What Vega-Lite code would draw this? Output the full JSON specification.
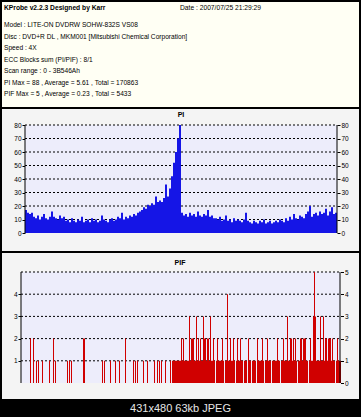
{
  "$schema": "https://vega.github.io/schema/vega-lite/v6.json",
  "background": "#000000",
  "padding": {"left": 2, "top": 2, "right": 2, "bottom": 0},
  "spacing": 2,
  "config": {
    "font": "Liberation Sans",
    "view": {"stroke": null},
    "axis": {"labelFont": "Liberation Sans", "labelColor": "#000000", "tickColor": "#000000", "domain": false, "grid": false, "title": null, "labelFontSize": 6.5, "tickSize": 3, "labelPadding": 1}
  },
  "vconcat": [
    {
      "width": 357,
      "height": 105,
      "view": {"fill": "#fffff4", "stroke": null},
      "layer": [
        {
          "data": {"values": [
            {"col": "a", "line": 1, "text": "Model : LITE-ON DVDRW SOHW-832S VS08"},
            {"col": "a", "line": 2, "text": "Disc : DVD+R DL , MKM001 [Mitsubishi Chemical Corporation]"},
            {"col": "a", "line": 3, "text": "Speed : 4X"},
            {"col": "a", "line": 4, "text": "ECC Blocks sum (PI/PIF) : 8/1"},
            {"col": "a", "line": 5, "text": "Scan range : 0 - 3B546Ah"},
            {"col": "a", "line": 6, "text": "PI Max = 88 , Average = 5.61 , Total = 170863"},
            {"col": "a", "line": 7, "text": "PIF Max = 5 , Average = 0.23 , Total = 5433"}
          ]},
          "mark": {"type": "text", "align": "left", "baseline": "middle", "fontSize": 6.6, "color": "#000000"},
          "encoding": {
            "x": {"field": "col", "type": "nominal", "scale": {"type": "point", "domain": ["a", "b"], "range": [2, 178], "padding": 0}, "axis": null},
            "y": {"field": "line", "type": "quantitative", "scale": {"domain": [-1, 8.13], "reverse": true, "nice": false, "zero": false}, "axis": null},
            "text": {"field": "text"}
          }
        },
        {
          "data": {"values": [{"col": "a", "line": 0, "text": "KProbe v2.2.3   Designed by Karr"}]},
          "mark": {"type": "text", "align": "left", "baseline": "middle", "fontSize": 6.7, "fontWeight": "bold", "color": "#000000", "dy": -5.5},
          "encoding": {
            "x": {"field": "col", "type": "nominal", "scale": {"type": "point", "domain": ["a", "b"], "range": [2, 178], "padding": 0}, "axis": null},
            "y": {"field": "line", "type": "quantitative", "scale": {"domain": [-1, 8.13], "reverse": true, "nice": false, "zero": false}, "axis": null},
            "text": {"field": "text"}
          }
        },
        {
          "data": {"values": [{"col": "b", "line": 0, "text": "Date : 2007/07/25 21:29:29"}]},
          "mark": {"type": "text", "align": "left", "baseline": "middle", "fontSize": 6.7, "color": "#000000", "dy": -5.5},
          "encoding": {
            "x": {"field": "col", "type": "nominal", "scale": {"type": "point", "domain": ["a", "b"], "range": [2, 178], "padding": 0}, "axis": null},
            "y": {"field": "line", "type": "quantitative", "scale": {"domain": [-1, 8.13], "reverse": true, "nice": false, "zero": false}, "axis": null},
            "text": {"field": "text"}
          }
        }
      ]
    },
    {
      "width": 357,
      "height": 142,
      "view": {"fill": "#f4f4f4", "stroke": null},
      "resolve": {"axis": {"y": "independent"}},
      "layer": [
        {
          "data": {"values": [{}]},
          "mark": {"type": "rect", "fill": "#ededfb"},
          "encoding": {
            "x": {"datum": 0, "type": "quantitative", "scale": {"domain": [-23, 334], "nice": false, "zero": false, "padding": 0}, "axis": null},
            "x2": {"datum": 312},
            "y": {"datum": 0, "type": "quantitative", "scale": {"domain": [-13.333, 91.852], "nice": false, "zero": false, "padding": 0}, "axis": null},
            "y2": {"datum": 80}
          }
        },
        {
          "data": {"values": [{"g": 10}, {"g": 20}, {"g": 30}, {"g": 40}, {"g": 50}, {"g": 60}, {"g": 70}, {"g": 80}]},
          "mark": {"type": "rule", "color": "#000000", "strokeDash": [2, 2], "strokeWidth": 1},
          "encoding": {
            "y": {"field": "g", "type": "quantitative", "scale": {"domain": [-13.333, 91.852], "nice": false, "zero": false, "padding": 0},
                  "axis": {"orient": "right", "offset": -22, "values": [0, 10, 20, 30, 40, 50, 60, 70, 80]}},
            "x": {"datum": 0, "type": "quantitative", "scale": {"domain": [-23, 334], "nice": false, "zero": false, "padding": 0}, "axis": null},
            "x2": {"datum": 312}
          }
        },
        {
          "data": {"values": [
            {"i":1,"v":17},{"i":3,"v":15},{"i":5,"v":14},{"i":7,"v":15},{"i":9,"v":12},
            {"i":11,"v":11},{"i":13,"v":13},{"i":15,"v":10},{"i":17,"v":12},{"i":19,"v":14},{"i":21,"v":11},{"i":23,"v":10},{"i":25,"v":12},{"i":27,"v":16},{"i":29,"v":12},{"i":31,"v":11},{"i":33,"v":10},{"i":35,"v":13},{"i":37,"v":11},{"i":39,"v":12},
            {"i":41,"v":9},{"i":43,"v":10},{"i":45,"v":8},{"i":47,"v":11},{"i":49,"v":9},{"i":51,"v":8},{"i":53,"v":10},{"i":55,"v":9},{"i":57,"v":12},{"i":59,"v":8},{"i":61,"v":9},{"i":63,"v":10},{"i":65,"v":8},{"i":67,"v":11},{"i":69,"v":9},{"i":71,"v":10},{"i":73,"v":8},{"i":75,"v":9},{"i":77,"v":13},{"i":79,"v":10},{"i":81,"v":9},{"i":83,"v":8},{"i":85,"v":10},{"i":87,"v":11},{"i":89,"v":9},
            {"i":91,"v":10},{"i":93,"v":12},{"i":95,"v":11},{"i":97,"v":15},{"i":99,"v":10},{"i":101,"v":12},{"i":103,"v":11},{"i":105,"v":13},
            {"i":107,"v":12},{"i":109,"v":14},{"i":111,"v":13},{"i":113,"v":15},{"i":115,"v":16},
            {"i":117,"v":17},{"i":119,"v":19},{"i":121,"v":18},{"i":123,"v":21},{"i":125,"v":20},
            {"i":127,"v":22},{"i":129,"v":21},{"i":131,"v":27},{"i":133,"v":23},{"i":135,"v":24},
            {"i":137,"v":23},{"i":139,"v":26},{"i":141,"v":36},{"i":143,"v":27},{"i":145,"v":33},
            {"i":147,"v":42},{"i":149,"v":52},{"i":151,"v":60},{"i":153,"v":70},{"i":155,"v":80},
            {"i":157,"v":15},{"i":159,"v":13},{"i":161,"v":14},{"i":163,"v":12},{"i":165,"v":15},{"i":167,"v":13},{"i":169,"v":14},{"i":171,"v":12},{"i":173,"v":16},{"i":175,"v":13},{"i":177,"v":12},{"i":179,"v":14},{"i":181,"v":13},{"i":183,"v":17},{"i":185,"v":12},{"i":187,"v":13},{"i":189,"v":11},
            {"i":191,"v":11},{"i":193,"v":10},{"i":195,"v":12},{"i":197,"v":9},{"i":199,"v":10},{"i":201,"v":13},{"i":203,"v":9},{"i":205,"v":10},{"i":207,"v":8},{"i":209,"v":11},{"i":211,"v":9},{"i":213,"v":10},{"i":215,"v":9},{"i":217,"v":8},{"i":219,"v":10},
            {"i":221,"v":15},{"i":223,"v":9},{"i":225,"v":8},{"i":227,"v":7},{"i":229,"v":9},{"i":231,"v":8},{"i":233,"v":7},{"i":235,"v":9},{"i":237,"v":8},{"i":239,"v":10},{"i":241,"v":7},{"i":243,"v":8},{"i":245,"v":9},{"i":247,"v":7},{"i":249,"v":8},{"i":251,"v":9},{"i":253,"v":8},{"i":255,"v":10},{"i":257,"v":9},{"i":259,"v":8},
            {"i":261,"v":11},{"i":263,"v":9},{"i":265,"v":12},{"i":267,"v":10},{"i":269,"v":14},{"i":271,"v":11},{"i":273,"v":10},{"i":275,"v":13},{"i":277,"v":12},{"i":279,"v":11},{"i":281,"v":14},
            {"i":283,"v":16},{"i":285,"v":20},{"i":287,"v":12},{"i":289,"v":14},{"i":291,"v":15},{"i":293,"v":13},{"i":295,"v":16},{"i":297,"v":14},{"i":299,"v":15},{"i":301,"v":18},{"i":303,"v":13},{"i":305,"v":16},{"i":307,"v":19},{"i":309,"v":14},{"i":311,"v":15}
          ]},
          "mark": {"type": "bar", "color": "#1515e6", "size": 2},
          "encoding": {
            "x": {"field": "i", "type": "quantitative", "scale": {"domain": [-23, 334], "nice": false, "zero": false, "padding": 0},
                  "axis": {"orient": "bottom", "offset": -18, "values": [0, 17, 46, 71, 98, 131, 161, 194, 225, 254, 287], "labelFontSize": 6, "labelFlush": false, "labelOverlap": false,
                           "labelExpr": "['98h','30F48h','9D5E2h','E8094h','140F24h','1A75E3h','20C681h','26FE6Eh','2D2F3Eh','33E834h','3A0C4Fh'][indexof([0,17,46,71,98,131,161,194,225,254,287], datum.value)]"}},
            "y": {"field": "v", "type": "quantitative", "scale": {"domain": [-13.333, 91.852], "nice": false, "zero": false, "padding": 0},
                  "axis": {"orient": "left", "offset": -23, "values": [0, 10, 20, 30, 40, 50, 60, 70, 80]}}
          }
        },
        {
          "data": {"values": [{}]},
          "mark": {"type": "rule", "color": "#000000", "strokeWidth": 1},
          "encoding": {
            "x": {"datum": 0, "type": "quantitative", "scale": {"domain": [-23, 334], "nice": false, "zero": false, "padding": 0}, "axis": null},
            "y": {"datum": 0, "type": "quantitative", "scale": {"domain": [-13.333, 91.852], "nice": false, "zero": false, "padding": 0}, "axis": null},
            "y2": {"datum": 80}
          }
        },
        {
          "data": {"values": [{}]},
          "mark": {"type": "rule", "color": "#000000", "strokeWidth": 1},
          "encoding": {
            "x": {"datum": 312, "type": "quantitative", "scale": {"domain": [-23, 334], "nice": false, "zero": false, "padding": 0}, "axis": null},
            "y": {"datum": 0, "type": "quantitative", "scale": {"domain": [-13.333, 91.852], "nice": false, "zero": false, "padding": 0}, "axis": null},
            "y2": {"datum": 80}
          }
        },
        {
          "data": {"values": [{"t": "PI"}]},
          "mark": {"type": "text", "fontSize": 7, "fontWeight": "bold", "color": "#000000", "baseline": "middle", "align": "center"},
          "encoding": {
            "x": {"datum": 156, "type": "quantitative", "scale": {"domain": [-23, 334], "nice": false, "zero": false, "padding": 0}, "axis": null},
            "y": {"datum": 87.4, "type": "quantitative", "scale": {"domain": [-13.333, 91.852], "nice": false, "zero": false, "padding": 0}, "axis": null},
            "text": {"field": "t"}
          }
        }
      ]
    },
    {
      "width": 357,
      "height": 146,
      "view": {"fill": "#f4f4f4", "stroke": null},
      "resolve": {"axis": {"y": "independent"}},
      "layer": [
        {
          "data": {"values": [{}]},
          "mark": {"type": "rect", "fill": "#ededfb"},
          "encoding": {
            "x": {"datum": -0.5, "type": "quantitative", "scale": {"domain": [-19.5, 337.5], "nice": false, "zero": false, "padding": 0}, "axis": null},
            "x2": {"datum": 318.5},
            "y": {"datum": 0, "type": "quantitative", "scale": {"domain": [-0.7207, 5.8559], "nice": false, "zero": false, "padding": 0}, "axis": null},
            "y2": {"datum": 5}
          }
        },
        {
          "data": {"values": [{"g": 1}, {"g": 2}, {"g": 3}, {"g": 4}, {"g": 5}]},
          "mark": {"type": "rule", "color": "#000000", "strokeDash": [2, 2], "strokeWidth": 1},
          "encoding": {
            "y": {"field": "g", "type": "quantitative", "scale": {"domain": [-0.7207, 5.8559], "nice": false, "zero": false, "padding": 0},
                  "axis": {"orient": "right", "offset": -18.5, "values": [0, 1, 2, 3, 4, 5]}},
            "x": {"datum": -0.5, "type": "quantitative", "scale": {"domain": [-19.5, 337.5], "nice": false, "zero": false, "padding": 0}, "axis": null},
            "x2": {"datum": 318.5}
          }
        },
        {
          "data": {"values": [
            {"i":9,"v":2},{"i":12,"v":2},{"i":15,"v":1},{"i":17,"v":1},{"i":21,"v":1},{"i":28,"v":1},{"i":32,"v":2},{"i":34,"v":1},{"i":46,"v":1},{"i":48,"v":1},{"i":50,"v":1},{"i":62,"v":2},{"i":63,"v":2},{"i":81,"v":1},{"i":83,"v":1},{"i":89,"v":1},{"i":94,"v":1},{"i":98,"v":1},{"i":104,"v":2},{"i":112,"v":1},{"i":114,"v":1},{"i":116,"v":1},{"i":122,"v":1},{"i":126,"v":1},{"i":133,"v":1},{"i":136,"v":1},{"i":138,"v":1},{"i":140,"v":1},{"i":144,"v":1},{"i":149,"v":1},{"i":151,"v":1},
            {"i":152,"v":1},{"i":153,"v":1},{"i":154,"v":1},{"i":155,"v":1},{"i":156,"v":1},{"i":157,"v":1},{"i":158,"v":1},{"i":159,"v":1},
            {"i":160,"v":2},{"i":161,"v":1},{"i":162,"v":2},{"i":163,"v":1},{"i":164,"v":1},{"i":165,"v":1},{"i":166,"v":1},{"i":167,"v":1},{"i":168,"v":3},{"i":169,"v":1},
            {"i":170,"v":2},{"i":171,"v":2},{"i":172,"v":2},{"i":173,"v":1},{"i":174,"v":1},{"i":175,"v":3},{"i":176,"v":1},{"i":177,"v":2},{"i":178,"v":1},{"i":179,"v":2},
            {"i":180,"v":1},{"i":181,"v":1},{"i":182,"v":3},{"i":183,"v":2},{"i":184,"v":2},{"i":185,"v":1},{"i":186,"v":2},{"i":187,"v":2},{"i":188,"v":1},{"i":189,"v":3},
            {"i":190,"v":1},{"i":191,"v":1},{"i":192,"v":2},{"i":193,"v":1},{"i":195,"v":1},{"i":196,"v":2},{"i":197,"v":1},{"i":198,"v":1},{"i":199,"v":1},
            {"i":200,"v":1},{"i":201,"v":2},{"i":202,"v":1},{"i":204,"v":1},{"i":205,"v":1},{"i":206,"v":4},{"i":207,"v":1},{"i":208,"v":1},{"i":209,"v":2},
            {"i":210,"v":1},{"i":211,"v":1},{"i":212,"v":2},{"i":213,"v":1},{"i":215,"v":1},{"i":216,"v":2},{"i":217,"v":1},{"i":218,"v":1},{"i":219,"v":2},
            {"i":220,"v":1},{"i":221,"v":1},{"i":223,"v":1},{"i":224,"v":1},{"i":225,"v":1},{"i":227,"v":2},{"i":228,"v":1},{"i":229,"v":1},
            {"i":231,"v":1},{"i":232,"v":1},{"i":233,"v":1},{"i":234,"v":1},{"i":236,"v":2},{"i":237,"v":1},{"i":238,"v":1},{"i":239,"v":1},
            {"i":240,"v":1},{"i":241,"v":2},{"i":242,"v":1},{"i":244,"v":1},{"i":245,"v":1},{"i":246,"v":2},{"i":247,"v":1},{"i":248,"v":1},{"i":249,"v":1},
            {"i":251,"v":1},{"i":252,"v":1},{"i":253,"v":1},{"i":254,"v":1},{"i":255,"v":1},{"i":256,"v":2},{"i":257,"v":1},{"i":258,"v":1},
            {"i":260,"v":1},{"i":261,"v":1},{"i":262,"v":2},{"i":263,"v":1},{"i":264,"v":1},{"i":265,"v":1},{"i":266,"v":3},{"i":267,"v":1},{"i":268,"v":1},{"i":269,"v":2},
            {"i":270,"v":2},{"i":271,"v":1},{"i":272,"v":2},{"i":273,"v":1},{"i":274,"v":2},{"i":275,"v":1},{"i":277,"v":1},{"i":278,"v":1},{"i":279,"v":2},
            {"i":280,"v":2},{"i":281,"v":1},{"i":282,"v":2},{"i":283,"v":2},{"i":284,"v":2},{"i":285,"v":1},{"i":286,"v":1},{"i":288,"v":1},{"i":289,"v":2},
            {"i":290,"v":1},{"i":291,"v":1},{"i":292,"v":3},{"i":293,"v":5},{"i":294,"v":3},{"i":295,"v":1},{"i":296,"v":1},{"i":297,"v":1},{"i":298,"v":1},{"i":299,"v":3},
            {"i":300,"v":1},{"i":301,"v":1},{"i":302,"v":3},{"i":303,"v":1},{"i":304,"v":2},{"i":305,"v":2},{"i":306,"v":1},{"i":307,"v":2},{"i":308,"v":2},{"i":309,"v":2},
            {"i":310,"v":1},{"i":311,"v":2},{"i":312,"v":1},{"i":313,"v":1},{"i":315,"v":1},{"i":316,"v":2},{"i":317,"v":1},{"i":318,"v":1},{"i":319,"v":1}
          ]},
          "mark": {"type": "bar", "color": "#d00000", "size": 1},
          "encoding": {
            "x": {"field": "i", "type": "quantitative", "scale": {"domain": [-19.5, 337.5], "nice": false, "zero": false, "padding": 0},
                  "axis": {"orient": "bottom", "offset": -16, "values": [0, 17, 48, 75, 104, 134, 163, 194, 226, 257, 290], "labelFontSize": 6, "labelFlush": false, "labelOverlap": false,
                           "labelExpr": "['44h','7B7C2h','9CD10h','F0F07h','1307C2h','1A0020h','1C0D06h','2277E3h','28DE10h','2EF963h','350E0Ch'][indexof([0,17,48,75,104,134,163,194,226,257,290], datum.value)]"}},
            "y": {"field": "v", "type": "quantitative", "scale": {"domain": [-0.7207, 5.8559], "nice": false, "zero": false, "padding": 0},
                  "axis": {"orient": "left", "offset": -19, "values": [1, 2, 3, 4]}}
          }
        },
        {
          "data": {"values": [{}]},
          "mark": {"type": "rule", "color": "#000000", "strokeWidth": 1},
          "encoding": {
            "x": {"datum": -0.5, "type": "quantitative", "scale": {"domain": [-19.5, 337.5], "nice": false, "zero": false, "padding": 0}, "axis": null},
            "y": {"datum": 0, "type": "quantitative", "scale": {"domain": [-0.7207, 5.8559], "nice": false, "zero": false, "padding": 0}, "axis": null},
            "y2": {"datum": 5}
          }
        },
        {
          "data": {"values": [{}]},
          "mark": {"type": "rule", "color": "#000000", "strokeWidth": 1},
          "encoding": {
            "x": {"datum": 318.5, "type": "quantitative", "scale": {"domain": [-19.5, 337.5], "nice": false, "zero": false, "padding": 0}, "axis": null},
            "y": {"datum": 0, "type": "quantitative", "scale": {"domain": [-0.7207, 5.8559], "nice": false, "zero": false, "padding": 0}, "axis": null},
            "y2": {"datum": 5}
          }
        },
        {
          "data": {"values": [{"t": "PIF"}]},
          "mark": {"type": "text", "fontSize": 7, "fontWeight": "bold", "color": "#000000", "baseline": "middle", "align": "center"},
          "encoding": {
            "x": {"datum": 158.5, "type": "quantitative", "scale": {"domain": [-19.5, 337.5], "nice": false, "zero": false, "padding": 0}, "axis": null},
            "y": {"datum": 5.405, "type": "quantitative", "scale": {"domain": [-0.7207, 5.8559], "nice": false, "zero": false, "padding": 0}, "axis": null},
            "text": {"field": "t"}
          }
        }
      ]
    },
    {
      "width": 357,
      "height": 16,
      "view": {"fill": "#000000", "stroke": null},
      "data": {"values": [{"t": "431x480 63kb JPEG"}]},
      "mark": {"type": "text", "color": "#e6e6e6", "fontSize": 11, "font": "Liberation Sans", "baseline": "middle", "align": "center"},
      "encoding": {"text": {"field": "t"}}
    }
  ]
}
